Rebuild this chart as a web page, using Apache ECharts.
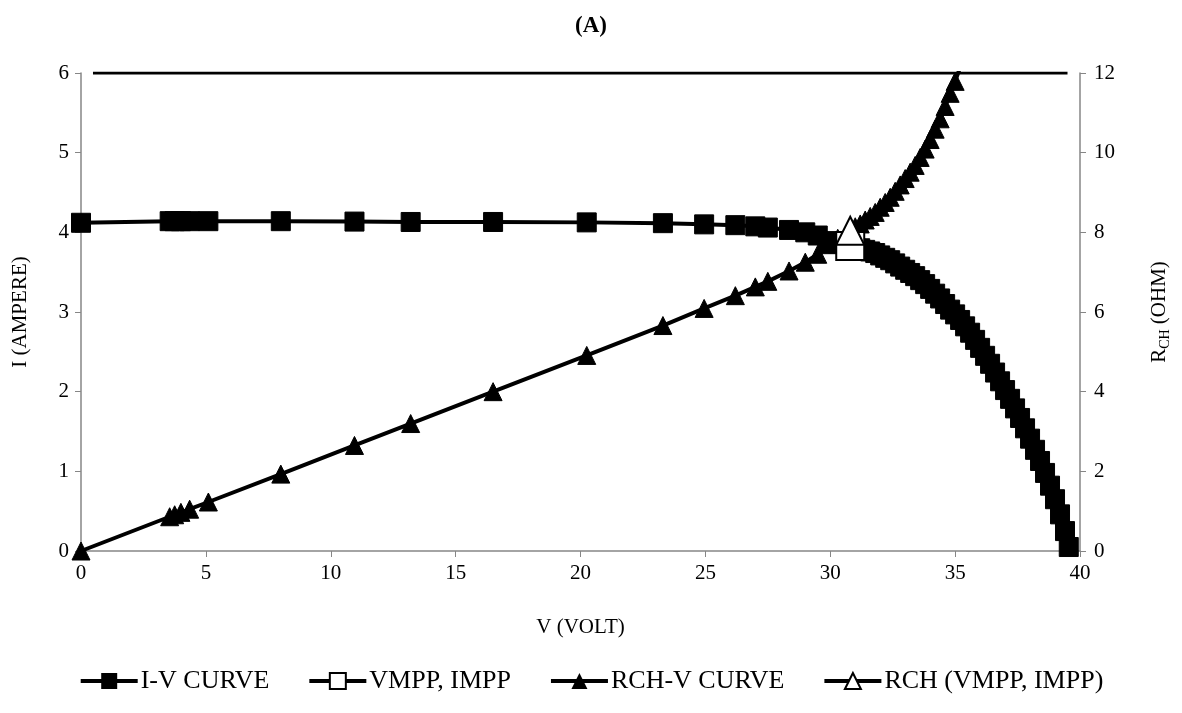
<!DOCTYPE html>
<html>
<head>
<meta charset="utf-8">
<script src="https://cdn.jsdelivr.net/npm/echarts@6/dist/echarts.min.js"></script>
<style>
  html, body { margin: 0; padding: 0; background: #fff; }
  #iv_chart { width: 1182px; height: 713px; }
</style>
</head>
<body>
<div id="iv_chart"></div>
<script>
// voltage / current
var ivVolt = [0, 3.55, 3.75, 4.0, 4.35, 5.1, 8.0, 10.95, 13.2, 16.5, 20.25, 23.3, 24.95, 26.2, 27.0, 27.5,
    28.35, 29.0, 29.5, 29.9, 30.3, 30.8, 31.0, 31.2, 31.4, 31.6, 31.8, 32.0, 32.2, 32.4, 32.6, 32.8,
    33.0, 33.2, 33.4, 33.6, 33.8, 34.0, 34.2, 34.4, 34.6, 34.8, 35.0, 35.2, 35.4, 35.6, 35.8, 36.0,
    36.2, 36.4, 36.6, 36.8, 37.0, 37.2, 37.4, 37.6, 37.8, 38.0, 38.2, 38.4, 38.6, 38.8, 39.0, 39.2,
    39.4, 39.55];
var ivAmp = [4.12, 4.14, 4.14, 4.14, 4.14, 4.14, 4.14, 4.135, 4.13, 4.13, 4.125, 4.115, 4.10, 4.09, 4.075, 4.06,
    4.03, 4.00, 3.96, 3.89, 3.86, 3.83, 3.81, 3.80, 3.78, 3.76, 3.74, 3.71, 3.68, 3.65, 3.61, 3.57,
    3.53, 3.49, 3.45, 3.40, 3.35, 3.29, 3.23, 3.17, 3.10, 3.03, 2.97, 2.90, 2.82, 2.74, 2.65, 2.55,
    2.45, 2.35, 2.24, 2.13, 2.02, 1.91, 1.79, 1.67, 1.54, 1.41, 1.27, 1.13, 0.98, 0.82, 0.65, 0.46,
    0.25, 0.05];

// channel resistance (right axis)
var rchVolt = [0, 3.55, 3.75, 4.0, 4.35, 5.1, 8.0, 10.95, 13.2, 16.5, 20.25, 23.3, 24.95, 26.2, 27.0, 27.5,
    28.35, 29.0, 29.5, 29.9, 30.3, 30.8, 31.0, 31.2, 31.4, 31.6, 31.8, 32.0, 32.2, 32.4, 32.6, 32.8,
    33.0, 33.2, 33.4, 33.6, 33.8, 34.0, 34.2, 34.4, 34.6, 34.8, 35.0, 35.2];
var rchOhm = [0, 0.86, 0.91, 0.97, 1.05, 1.23, 1.93, 2.65, 3.20, 4.00, 4.91, 5.66, 6.09, 6.41, 6.63, 6.77,
    7.03, 7.25, 7.45, 7.69, 7.85, 8.04, 8.14, 8.21, 8.31, 8.40, 8.50, 8.63, 8.75, 8.88, 9.03, 9.19,
    9.35, 9.51, 9.68, 9.88, 10.09, 10.33, 10.59, 10.85, 11.16, 11.49, 11.79, 12.14];

// maximum power point
var mppVolt = 30.8;
var mppAmp = 3.83;
var mppOhm = 8.04;

// black rule drawn along the top of the plot
var topRuleVolt = [0.48, 39.5];
var topRuleAmp = 6;

var xTicks = [0, 40, 5];
var leftTicks = [0, 6, 1];
var rightTicks = [0, 12, 2];

function pairs(xs, ys) {
    var out = [];
    for (var i = 0; i < xs.length; i++) out.push([xs[i], ys[i]]);
    return out;
}

var myChart = echarts.init(document.getElementById('iv_chart'));

var serif = '"Liberation Serif", "Times New Roman", serif';
var axisGray = '#868686';
var ink = '#000';

var option = {
    animation: false,
    backgroundColor: '#fff',
    textStyle: { fontFamily: serif, color: ink },
    title: {
        text: '(A)',
        left: 'center',
        top: 10,
        textStyle: { fontFamily: serif, fontWeight: 'bold', fontSize: 23, color: ink }
    },
    grid: { left: 81, right: 102, top: 73, bottom: 162 },
    legend: {
        bottom: 14,
        left: 'center',
        itemWidth: 57,
        itemHeight: 20,
        itemGap: 38,
        data: ['I-V CURVE', 'VMPP, IMPP', 'RCH-V CURVE', 'RCH (VMPP, IMPP)'],
        lineStyle: { width: 4 },
        textStyle: { fontFamily: serif, fontSize: 26, color: ink, padding: [0, 0, 0, -2] }
    },
    xAxis: {
        type: 'value',
        min: xTicks[0], max: xTicks[1], interval: xTicks[2],
        name: 'V (VOLT)',
        nameLocation: 'middle',
        nameGap: 66,
        nameTextStyle: { fontFamily: serif, fontSize: 21, color: ink },
        axisLine: { show: true, lineStyle: { color: axisGray, width: 1.5 } },
        axisTick: { show: true, inside: false, length: 6, lineStyle: { color: axisGray } },
        axisLabel: { fontFamily: serif, fontSize: 21, color: ink, margin: 12 },
        splitLine: { show: false }
    },
    yAxis: [{
        type: 'value',
        position: 'left',
        min: leftTicks[0], max: leftTicks[1], interval: leftTicks[2],
        name: 'I (AMPERE)',
        nameLocation: 'middle',
        nameRotate: 90,
        nameGap: 50,
        nameTextStyle: { fontFamily: serif, fontSize: 21, color: ink },
        axisLine: { show: true, lineStyle: { color: axisGray, width: 1.5 } },
        axisTick: { show: true, inside: false, length: 6, lineStyle: { color: axisGray } },
        axisLabel: { fontFamily: serif, fontSize: 21, color: ink, margin: 12 },
        splitLine: { show: false }
    }, {
        type: 'value',
        position: 'right',
        min: rightTicks[0], max: rightTicks[1], interval: rightTicks[2],
        name: '{a|R}{b|CH}{a| (OHM)}',
        nameLocation: 'middle',
        nameRotate: 90,
        nameGap: 66,
        nameTextStyle: {
            fontFamily: serif, fontSize: 21, color: ink,
            rich: {
                a: { fontFamily: serif, fontSize: 21, color: ink, lineHeight: 26, verticalAlign: 'middle' },
                b: { fontFamily: serif, fontSize: 14, color: ink, lineHeight: 26, padding: [12, 0, 0, 0] }
            }
        },
        axisLine: { show: true, lineStyle: { color: axisGray, width: 1.5 } },
        axisTick: { show: true, inside: false, length: 6, lineStyle: { color: axisGray } },
        axisLabel: { fontFamily: serif, fontSize: 21, color: ink, margin: 14 },
        splitLine: { show: false }
    }],
    series: [{
        name: 'top rule',
        type: 'line',
        silent: true,
        symbol: 'none',
        data: pairs(topRuleVolt, [topRuleAmp, topRuleAmp]),
        lineStyle: { color: ink, width: 3 },
        z: 1
    }, {
        name: 'I-V CURVE',
        type: 'line',
        yAxisIndex: 0,
        symbol: 'rect',
        symbolSize: 19,
        data: pairs(ivVolt, ivAmp),
        lineStyle: { color: ink, width: 4 },
        itemStyle: { color: ink, borderColor: ink },
        z: 2
    }, {
        name: 'RCH-V CURVE',
        type: 'line',
        yAxisIndex: 1,
        clip: true,
        symbol: 'triangle',
        symbolSize: 18,
        data: pairs(rchVolt, rchOhm),
        lineStyle: { color: ink, width: 4 },
        itemStyle: { color: ink, borderColor: ink },
        z: 3
    }, {
        name: 'VMPP, IMPP',
        type: 'line',
        yAxisIndex: 0,
        symbol: 'rect',
        symbolSize: 28,
        data: [[mppVolt, mppAmp]],
        lineStyle: { color: ink, width: 4 },
        itemStyle: { color: '#fff', borderColor: ink, borderWidth: 2 },
        z: 4
    }, {
        name: 'RCH (VMPP, IMPP)',
        type: 'line',
        yAxisIndex: 1,
        symbol: 'triangle',
        symbolSize: 28,
        data: [[mppVolt, mppOhm]],
        lineStyle: { color: ink, width: 4 },
        itemStyle: { color: '#fff', borderColor: ink, borderWidth: 2 },
        z: 5
    }]
};

myChart.setOption(option);
</script>
</body>
</html>
